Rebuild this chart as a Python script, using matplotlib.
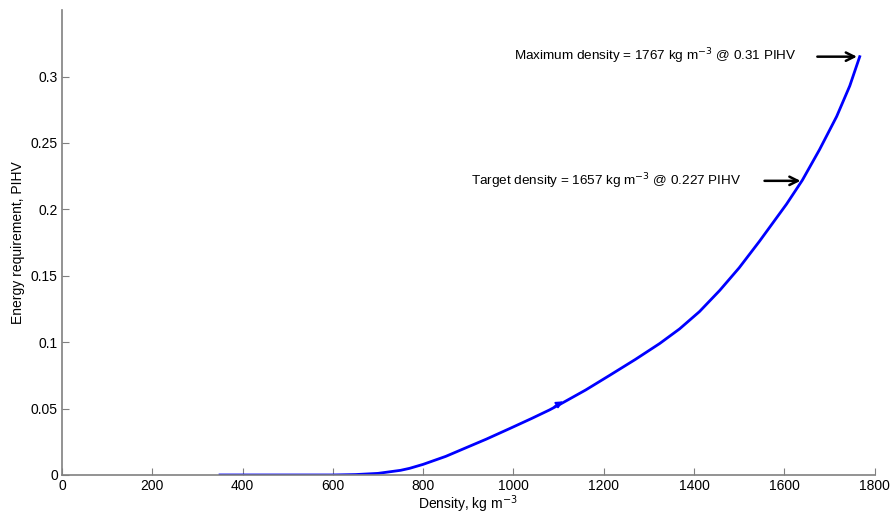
import matplotlib
matplotlib.use("Agg")
import matplotlib.pyplot as plt
import numpy as np

plt.rcParams["font.family"] = ["Liberation Sans", "DejaVu Sans"]

# compaction curve
density = [350, 600, 650, 700, 750, 770, 800, 850, 888, 940, 992, 1040,
           1080, 1102, 1160, 1213, 1270, 1324, 1368, 1412, 1457, 1500,
           1545, 1605, 1640, 1678, 1716, 1745, 1767]
energy = [0, 0, 0.0003, 0.0012, 0.0035, 0.005, 0.008, 0.014, 0.0195, 0.027,
          0.035, 0.0425, 0.049, 0.053, 0.064, 0.075, 0.087, 0.099, 0.110,
          0.123, 0.139, 0.156, 0.176, 0.204, 0.222, 0.245, 0.270, 0.293, 0.315]

max_density, max_energy = 1767, 0.315
target_density, target_energy = 1642, 0.2215

xticks = [0, 200, 400, 600, 800, 1000, 1200, 1400, 1600, 1800]
yticks = [0, 0.05, 0.1, 0.15, 0.2, 0.25, 0.3]

fig = plt.figure(figsize=(8.9, 5.17), dpi=100)
ax = fig.add_axes([0.0697, 0.0813, 0.913, 0.899])

ax.plot(density, energy, color="#0000ff", lw=2, solid_joinstyle="round")

# small direction arrow on the curve
ax.annotate("", xy=(1115, 0.0565), xytext=(1085, 0.0505),
            arrowprops=dict(arrowstyle="-|>", color="#0000ff", lw=1.2,
                            mutation_scale=10))

ax.annotate("", xy=(max_density, max_energy), xytext=(1667, max_energy),
            arrowprops=dict(arrowstyle="->", color="black", lw=1.8,
                            mutation_scale=15))
ax.text(1627, max_energy, "Maximum density = 1767 kg m$^{-3}$ @ 0.31 PIHV",
        ha="right", va="center", fontsize=9.7)

ax.annotate("", xy=(target_density, target_energy), xytext=(1550, target_energy),
            arrowprops=dict(arrowstyle="->", color="black", lw=1.8,
                            mutation_scale=15))
ax.text(1505, target_energy, "Target density = 1657 kg m$^{-3}$ @ 0.227 PIHV",
        ha="right", va="center", fontsize=9.7)

ax.set_xlim(0, 1800)
ax.set_ylim(0, 0.35)
ax.set_xticks(xticks)
ax.set_xticklabels([str(v) for v in xticks])
ax.set_yticks(yticks)
ax.set_yticklabels(["0", "0.05", "0.1", "0.15", "0.2", "0.25", "0.3"])
ax.tick_params(direction="in", length=5, color="#808080", labelsize=10, pad=3)

for s in ["top", "right"]:
    ax.spines[s].set_visible(False)
for s in ["left", "bottom"]:
    ax.spines[s].set_color("#808080")
    ax.spines[s].set_linewidth(1.2)

ax.set_xlabel("Density, kg m$^{-3}$", fontsize=10, labelpad=0)
ax.set_ylabel("Energy requirement, PIHV", fontsize=10, labelpad=4)

fig.savefig("out.png", dpi=100)
